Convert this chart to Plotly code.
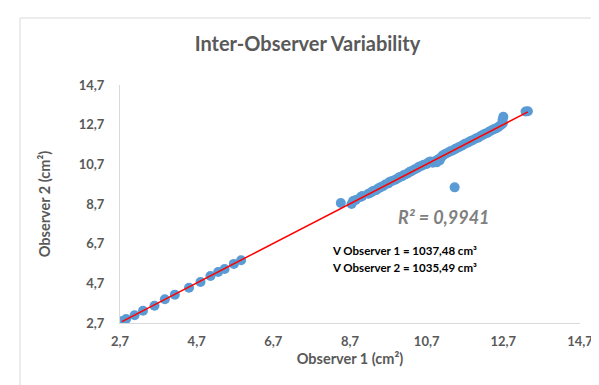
import numpy as np
import plotly.graph_objects as go

# Observer 1 / Observer 2 areas (cm²)
obs1_low = [2.75, 2.86, 3.08, 3.30, 3.60, 3.87, 4.13, 4.50, 4.80, 5.06, 5.26, 5.43, 5.67, 5.86]
obs2_low = [2.80, 2.90, 3.09, 3.32, 3.57, 3.90, 4.13, 4.48, 4.77, 5.07, 5.27, 5.42, 5.68, 5.86]

obs1_high = [8.46, 8.74, 8.78, 8.85, 8.98, 9.02, 9.18, 9.25, 9.30, 9.38, 9.45, 9.50, 9.56, 9.62,
             9.70, 9.74, 9.80, 9.88, 9.95, 10.00, 10.06, 10.12, 10.20, 10.26, 10.31, 10.38, 10.45,
             10.50, 10.56, 10.62, 10.70, 10.75, 10.80, 10.86, 10.92, 10.96, 11.00, 11.04, 11.08,
             11.12, 11.18, 11.26, 11.32, 11.38, 11.45, 11.52, 11.58, 11.64, 11.70, 11.78, 11.84,
             11.90, 11.98, 12.04, 12.10, 12.16, 12.22, 12.28, 12.34, 12.40, 12.46, 12.52, 12.57,
             12.62, 12.66, 12.69, 12.70, 12.68, 13.28, 13.34, 11.43]
obs2_high = [8.75, 8.70, 8.85, 8.90, 9.05, 9.10, 9.22, 9.28, 9.35, 9.40, 9.50, 9.55, 9.60, 9.68,
             9.74, 9.82, 9.86, 9.92, 10.00, 10.06, 10.10, 10.18, 10.24, 10.32, 10.36, 10.44, 10.50,
             10.58, 10.62, 10.68, 10.72, 10.80, 10.84, 10.78, 10.85, 10.80, 10.95, 10.90, 11.05,
             11.15, 11.22, 11.30, 11.36, 11.40, 11.48, 11.55, 11.60, 11.66, 11.74, 11.80, 11.86,
             11.92, 12.00, 12.04, 12.12, 12.18, 12.24, 12.28, 12.36, 12.42, 12.48, 12.52, 12.58,
             12.66, 12.72, 12.78, 13.10, 12.95, 13.36, 13.38, 9.54]

x = np.array(obs1_low + obs1_high)
y = np.array(obs2_low + obs2_high)

slope, intercept = np.polyfit(x, y, 1)
fit_x = np.array([x.min(), x.max()])
fit_y = slope * fit_x + intercept

GRAY = "#595959"
FONT = "Lato"

fig = go.Figure()
fig.add_trace(go.Scatter(x=x, y=y, mode="markers",
                         marker=dict(size=10, color="#5B9BD5"), showlegend=False))
fig.add_trace(go.Scatter(x=fit_x, y=fit_y, mode="lines",
                         line=dict(color="#FF0000", width=1.5), showlegend=False))

L, R, T, B = 112, 27, 77, 70
W, H = 599, 385
pw, ph = W - L - R, H - T - B

def px(xp):
    return (xp - L) / pw

def py(yp):
    return (H - B - yp) / ph

fig.add_shape(type="rect", xref="paper", yref="paper",
              x0=px(12), x1=px(605), y0=py(392), y1=py(10),
              line=dict(color="#D9D9D9", width=1), fillcolor="rgba(0,0,0,0)", layer="below")

fig.add_annotation(xref="paper", yref="paper", x=px(484), y=py(209),
                   text="<b><i>R² = 0,9941</i></b>", showarrow=False,
                   font=dict(family=FONT, size=18, color="#7F7F7F"))
fig.add_annotation(xref="paper", yref="paper", x=px(471), y=py(251),
                   text="<b>V Observer 1 = 1037,48 cm³</b>", showarrow=False,
                   font=dict(family=FONT, size=11.5, color="#000000"))
fig.add_annotation(xref="paper", yref="paper", x=px(471), y=py(268),
                   text="<b>V Observer 2 = 1035,49 cm³</b>", showarrow=False,
                   font=dict(family=FONT, size=11.5, color="#000000"))

axis_common = dict(range=[2.7, 14.7], tick0=2.7, dtick=2, tickformat=".1f",
                   showgrid=False, zeroline=False, showline=True, linecolor="#D9D9D9",
                   linewidth=1, ticks="",
                   tickfont=dict(family=FONT, size=13, color=GRAY, weight="bold"))

fig.update_layout(
    width=W, height=H,
    margin=dict(l=L, r=R, t=T, b=B),
    paper_bgcolor="white", plot_bgcolor="white",
    separators=", ",
    title=dict(text="<b>Inter-Observer Variability</b>", x=0.5, xanchor="center",
               y=1 - 36 / H, yanchor="middle",
               font=dict(family=FONT, size=20, color=GRAY)),
    xaxis=dict(**axis_common, ticklabelstandoff=6,
               title=dict(text="<b>Observer 1 (cm²)</b>", standoff=6,
                          font=dict(family=FONT, size=14.5, color=GRAY))),
    yaxis=dict(**axis_common, ticklabelstandoff=12,
               title=dict(text="<b>Observer 2 (cm²)</b>", standoff=24,
                          font=dict(family=FONT, size=14.5, color=GRAY))),
)

fig.write_html("out.html")
